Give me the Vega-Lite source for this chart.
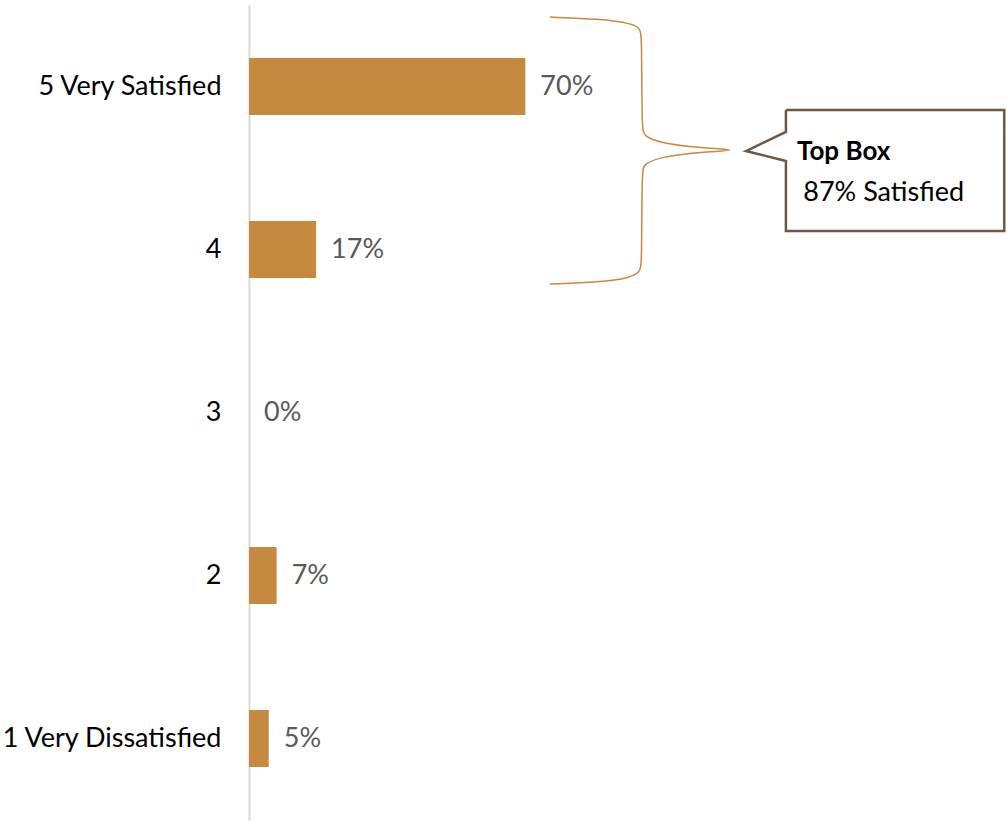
{
  "$schema": "https://vega.github.io/schema/vega-lite/v6.json",
  "autosize": "none",
  "width": 758,
  "height": 815,
  "padding": {"left": 249, "top": 5, "right": 0, "bottom": 1},
  "background": "white",
  "config": {"view": {"stroke": null}, "font": "Lato"},
  "datasets": {
    "bars": [
      {"rating": "5 Very Satisfied", "value": 0.70},
      {"rating": "4", "value": 0.17},
      {"rating": "3", "value": 0.0},
      {"rating": "2", "value": 0.07},
      {"rating": "1 Very Dissatisfied", "value": 0.05}
    ],
    "bracket": [
      {"i": 1, "x": 0.762, "yv": 0.074},
      {"i": 2, "x": 0.889, "yv": 0.086},
      {"i": 3, "x": 0.965, "yv": 0.110},
      {"i": 4, "x": 0.990, "yv": 0.141},
      {"i": 5, "x": 0.995, "yv": 0.184},
      {"i": 6, "x": 0.995, "yv": 0.767},
      {"i": 7, "x": 1.001, "yv": 0.804},
      {"i": 8, "x": 1.041, "yv": 0.847},
      {"i": 9, "x": 1.142, "yv": 0.877},
      {"i": 10, "x": 1.256, "yv": 0.890},
      {"i": 11, "x": 1.142, "yv": 0.902},
      {"i": 12, "x": 1.041, "yv": 0.933},
      {"i": 13, "x": 1.001, "yv": 0.975},
      {"i": 14, "x": 0.995, "yv": 1.012},
      {"i": 15, "x": 0.995, "yv": 1.595},
      {"i": 16, "x": 0.990, "yv": 1.638},
      {"i": 17, "x": 0.965, "yv": 1.675},
      {"i": 18, "x": 0.889, "yv": 1.699},
      {"i": 19, "x": 0.762, "yv": 1.712}
    ],
    "callout": [
      {"i": 1, "x": 1.360, "yv": 0.644},
      {"i": 2, "x": 1.913, "yv": 0.644},
      {"i": 3, "x": 1.913, "yv": 1.387},
      {"i": 4, "x": 1.360, "yv": 1.387},
      {"i": 5, "x": 1.360, "yv": 0.957},
      {"i": 6, "x": 1.259, "yv": 0.896},
      {"i": 7, "x": 1.360, "yv": 0.779},
      {"i": 8, "x": 1.360, "yv": 0.644}
    ],
    "title1": [{"label": "Top Box", "x": 1.388, "yv": 0.902}],
    "title2": [{"label": "87% Satisfied", "x": 1.404, "yv": 1.153}]
  },
  "resolve": {"scale": {"y": "independent"}, "axis": {"y": "independent"}},
  "layer": [
    {
      "data": {"name": "bars"},
      "encoding": {
        "y": {
          "field": "rating", "type": "nominal",
          "sort": ["5 Very Satisfied", "4", "3", "2", "1 Very Dissatisfied"],
          "scale": {"paddingInner": 0.65, "paddingOuter": 0.325},
          "axis": {
            "title": null, "ticks": false, "grid": false,
            "domainColor": "#D9D9D9", "domainWidth": 2,
            "labelFontSize": 27, "labelColor": "#000000", "labelFont": "Lato",
            "labelPadding": 28, "labelLimit": 400
          }
        },
        "x": {
          "field": "value", "type": "quantitative",
          "scale": {"domain": [0, 1.92], "nice": false, "zero": true},
          "axis": null
        }
      },
      "layer": [
        {"mark": {"type": "bar", "color": "#C5893F"}},
        {
          "mark": {"type": "text", "align": "left", "baseline": "middle", "dx": 15, "fontSize": 27, "color": "#595959", "font": "Lato"},
          "encoding": {"text": {"field": "value", "type": "quantitative", "format": ".0%"}}
        }
      ]
    },
    {
      "encoding": {
        "x": {"field": "x", "type": "quantitative", "scale": {"domain": [0, 1.92], "nice": false, "zero": true}, "axis": null},
        "y": {"field": "yv", "type": "quantitative", "scale": {"domain": [0, 5], "reverse": true, "nice": false, "zero": true}, "axis": null}
      },
      "layer": [
        {
          "data": {"name": "bracket"},
          "mark": {"type": "line", "color": "#C8893E", "strokeWidth": 1.5, "interpolate": "basis"},
          "encoding": {"order": {"field": "i", "type": "quantitative"}}
        },
        {
          "data": {"name": "callout"},
          "mark": {"type": "line", "color": "#6B5A45", "strokeWidth": 2.5, "interpolate": "linear", "strokeJoin": "miter"},
          "encoding": {"order": {"field": "i", "type": "quantitative"}}
        },
        {
          "data": {"name": "title1"},
          "mark": {"type": "text", "align": "left", "baseline": "middle", "fontSize": 26, "fontWeight": "bold", "color": "#000000", "font": "Lato"},
          "encoding": {"text": {"field": "label"}}
        },
        {
          "data": {"name": "title2"},
          "mark": {"type": "text", "align": "left", "baseline": "middle", "fontSize": 27, "color": "#000000", "font": "Lato"},
          "encoding": {"text": {"field": "label"}}
        }
      ]
    }
  ]
}
